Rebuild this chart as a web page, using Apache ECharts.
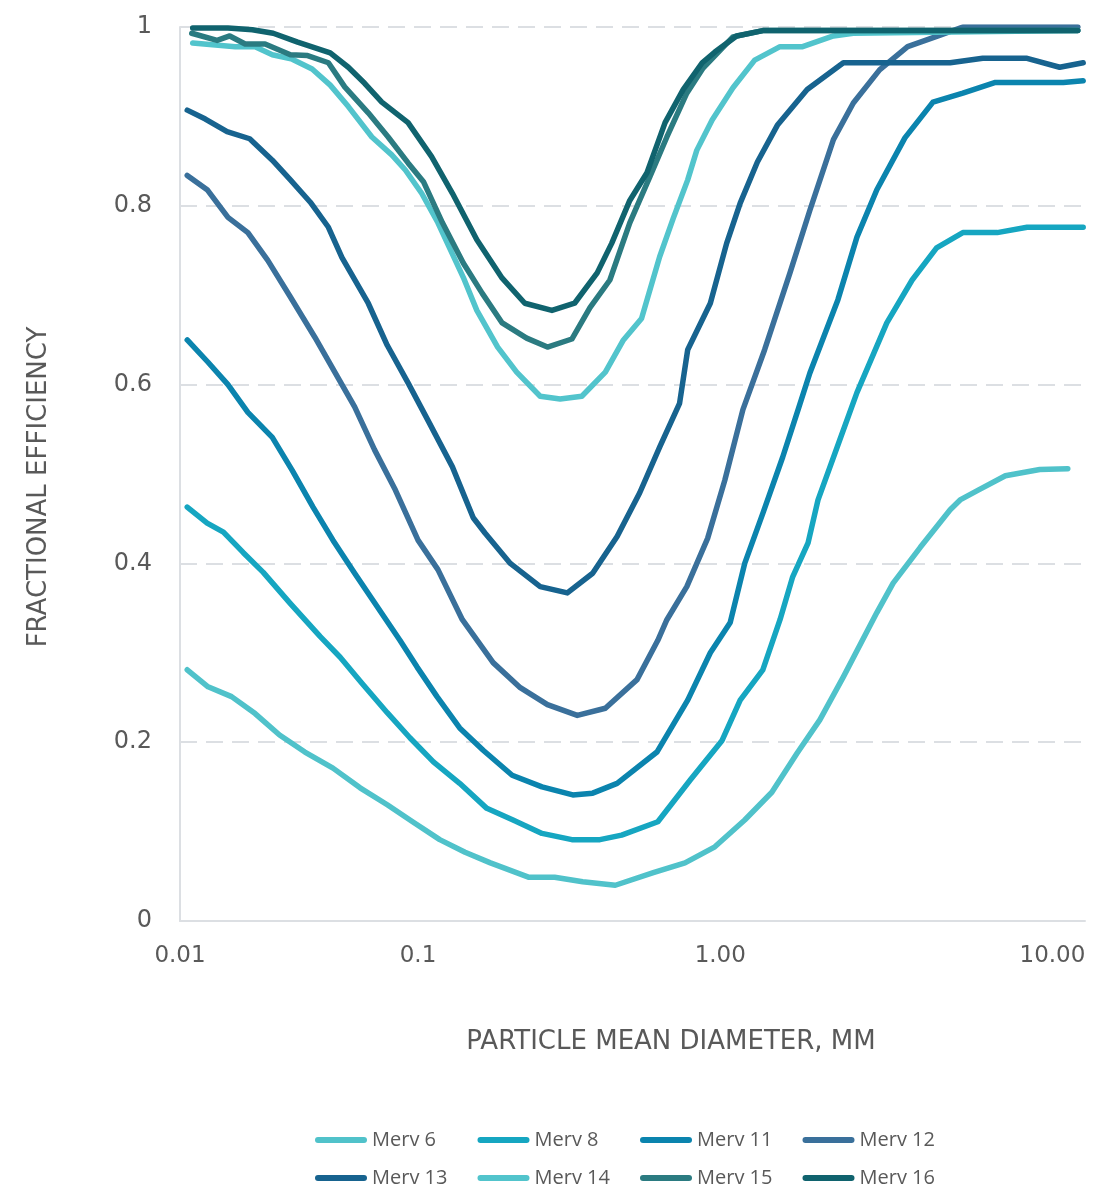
<!DOCTYPE html>
<html>
<head>
<meta charset="utf-8">
<script src="https://cdn.jsdelivr.net/npm/echarts@6/dist/echarts.min.js"></script>
<style>
  html, body { margin: 0; padding: 0; background: #fff; }
  #chart { width: 1118px; height: 1189px; }
</style>
</head>
<body>
<div id="chart"></div>
<script>
// x is position along the (non-uniform) diameter axis, 0..100; y is fractional efficiency
const tickPos = [0, 26.3, 59.7, 96.4];
const tickLabels = ["0.01", "0.1", "1.00", "10.00"];

const seriesNames = ["Merv 6", "Merv 8", "Merv 11", "Merv 12", "Merv 13", "Merv 14", "Merv 15", "Merv 16"];
const seriesColors = ["#50c2ca", "#16a6c1", "#0b84ae", "#3a709b", "#17638f", "#52c4cc", "#2b7b81", "#10636e"];

const merv6 = [[0.8,0.281],[3.1,0.262],[5.7,0.251],[8.3,0.232],[11.0,0.208],[13.8,0.189],[16.9,0.171],[19.9,0.149],[22.9,0.130],[25.7,0.111],[28.7,0.091],[31.5,0.077],[34.3,0.065],[38.5,0.049],[41.4,0.049],[44.5,0.044],[48.1,0.040],[52.3,0.054],[55.8,0.065],[59.1,0.083],[62.4,0.113],[65.4,0.144],[68.2,0.188],[70.7,0.225],[73.3,0.273],[77.0,0.345],[78.8,0.378],[81.8,0.418],[85.1,0.460],[86.2,0.471],[88.2,0.482],[91.2,0.498],[95.0,0.505],[98.1,0.506]];
const merv8 = [[0.8,0.463],[3.0,0.445],[4.8,0.435],[7.0,0.412],[9.2,0.390],[12.2,0.355],[15.5,0.318],[17.7,0.295],[20.1,0.266],[22.9,0.233],[25.4,0.205],[28.0,0.178],[30.9,0.154],[33.9,0.126],[36.8,0.113],[40.0,0.098],[43.3,0.091],[46.4,0.091],[48.8,0.096],[52.8,0.111],[56.4,0.158],[59.9,0.202],[61.9,0.247],[64.4,0.281],[66.3,0.337],[67.7,0.385],[69.4,0.423],[70.5,0.471],[72.9,0.538],[74.8,0.591],[78.1,0.669],[80.9,0.717],[83.6,0.753],[86.5,0.770],[90.3,0.770],[93.6,0.776],[99.8,0.776]];
const merv11 = [[0.8,0.650],[3.1,0.625],[5.3,0.600],[7.5,0.569],[10.2,0.541],[12.4,0.504],[14.7,0.463],[16.9,0.426],[19.3,0.389],[21.5,0.356],[24.3,0.314],[26.2,0.284],[28.4,0.251],[30.9,0.216],[33.5,0.191],[36.7,0.163],[40.0,0.150],[43.4,0.141],[45.6,0.143],[48.3,0.154],[52.7,0.189],[56.1,0.247],[58.6,0.300],[60.8,0.334],[62.4,0.400],[64.4,0.456],[66.6,0.519],[68.3,0.572],[69.6,0.613],[72.7,0.695],[74.8,0.765],[77.0,0.818],[80.1,0.876],[83.2,0.916],[86.5,0.926],[90.1,0.938],[97.6,0.938],[99.8,0.940]];
const merv12 = [[0.8,0.834],[3.0,0.818],[5.3,0.787],[7.5,0.770],[9.7,0.739],[12.2,0.698],[14.9,0.653],[17.5,0.607],[19.3,0.575],[21.5,0.527],[23.8,0.482],[26.3,0.426],[28.5,0.393],[31.2,0.337],[34.6,0.289],[37.6,0.261],[40.6,0.242],[43.9,0.230],[47.0,0.238],[50.5,0.270],[52.8,0.314],[53.8,0.337],[56.0,0.374],[58.3,0.428],[60.2,0.493],[62.2,0.572],[64.6,0.639],[67.4,0.725],[69.6,0.795],[72.2,0.874],[74.4,0.915],[77.3,0.952],[80.4,0.978],[84.0,0.991],[86.5,1.0],[95.4,1.0],[99.2,1.0]];
const merv13 = [[0.8,0.907],[2.8,0.897],[5.2,0.883],[7.7,0.875],[10.2,0.851],[12.2,0.829],[14.4,0.804],[16.4,0.776],[17.9,0.742],[20.8,0.691],[22.9,0.644],[25.2,0.602],[27.4,0.560],[30.1,0.508],[32.4,0.451],[33.7,0.434],[36.5,0.400],[39.8,0.374],[42.8,0.367],[45.6,0.389],[48.3,0.430],[50.8,0.479],[53.0,0.530],[55.2,0.579],[56.1,0.639],[58.6,0.691],[60.4,0.758],[61.9,0.803],[63.8,0.849],[66.0,0.890],[69.3,0.930],[73.3,0.960],[85.1,0.960],[88.7,0.965],[93.6,0.965],[97.2,0.955],[99.8,0.960]];
const merv14 = [[1.4,0.982],[6.1,0.978],[8.3,0.978],[10.2,0.969],[12.4,0.964],[14.6,0.953],[16.6,0.935],[18.6,0.911],[21.2,0.877],[23.4,0.857],[24.9,0.840],[26.7,0.814],[28.5,0.781],[31.3,0.720],[32.8,0.683],[35.1,0.642],[37.2,0.614],[39.8,0.587],[42.0,0.584],[44.4,0.587],[47.0,0.614],[49.0,0.650],[51.0,0.674],[53.0,0.743],[54.5,0.786],[56.1,0.829],[57.1,0.862],[58.8,0.896],[61.1,0.932],[63.5,0.963],[66.3,0.978],[68.8,0.978],[72.2,0.990],[74.4,0.993],[99.2,0.996]];
const merv15 = [[1.3,0.993],[4.1,0.985],[5.5,0.990],[7.2,0.981],[9.4,0.981],[12.2,0.969],[14.1,0.968],[16.4,0.960],[18.2,0.933],[20.8,0.904],[23.0,0.877],[25.2,0.848],[26.9,0.827],[29.0,0.781],[31.3,0.736],[33.4,0.702],[35.6,0.669],[38.3,0.652],[40.6,0.642],[43.3,0.651],[45.3,0.686],[47.5,0.717],[49.7,0.781],[51.9,0.832],[53.8,0.877],[56.0,0.926],[57.8,0.954],[61.1,0.989],[64.4,0.996],[99.2,0.996]];
const merv16 = [[1.4,0.999],[5.3,0.999],[8.0,0.997],[10.3,0.993],[13.0,0.983],[16.6,0.971],[18.6,0.955],[20.4,0.937],[22.3,0.916],[25.2,0.893],[27.8,0.855],[30.1,0.814],[32.8,0.762],[35.6,0.719],[38.1,0.691],[41.1,0.683],[43.6,0.691],[46.1,0.725],[47.7,0.758],[49.7,0.806],[51.6,0.837],[53.6,0.893],[55.6,0.930],[57.7,0.960],[59.1,0.972],[61.5,0.990],[64.4,0.996],[99.2,0.996]];

const allData = [merv6, merv8, merv11, merv12, merv13, merv14, merv15, merv16];

const chart = echarts.init(document.getElementById("chart"));
const titleFont = "DejaVu Sans";
const labelFont = "DejaVu Sans";
const legendFont = "Open Sans";
const textColor = "#595959";
const gridColor = "#dcdfe3";
// rounded bar used as legend marker
const capsule = "path://M3,0 L49,0 A3,3 0 0 1 49,6 L3,6 A3,3 0 0 1 3,0 Z";

// one legend per item so the four columns line up
const legends = seriesNames.map((name, i) => ({
  data: [{ name: name, icon: capsule }],
  left: 310 + (i % 4) * 162.5,
  top: i < 4 ? 1125 : 1163,
  itemWidth: 52,
  itemHeight: 6,
  textStyle: { fontFamily: legendFont, fontSize: 20, color: textColor }
}));

const option = {
  animation: false,
  color: seriesColors,
  grid: { left: 180, right: 33, top: 27, bottom: 268, containLabel: false },
  legend: legends,
  xAxis: {
    type: "value",
    min: 0, max: 100,
    name: "PARTICLE MEAN DIAMETER, MM",
    nameLocation: "middle",
    nameGap: 108,
    nameTextStyle: { fontFamily: titleFont, fontSize: 26, color: textColor, padding: [0, 0, 0, 77] },
    axisLine: { show: true, lineStyle: { color: gridColor, width: 2 } },
    axisTick: { show: false },
    splitLine: { show: false },
    axisLabel: {
      customValues: tickPos,
      margin: 24,
      fontFamily: labelFont, fontSize: 23, color: textColor,
      formatter: (v) => {
        const i = tickPos.findIndex((p) => Math.abs(p - v) < 0.01);
        return i >= 0 ? tickLabels[i] : "";
      }
    }
  },
  yAxis: {
    type: "value",
    min: 0, max: 1, interval: 0.2,
    name: "FRACTIONAL EFFICIENCY",
    nameLocation: "middle",
    nameGap: 128,
    nameTextStyle: { fontFamily: titleFont, fontSize: 26, color: textColor, padding: [0, 26, 0, 0] },
    axisLine: { show: true, lineStyle: { color: gridColor, width: 2 } },
    axisTick: { show: false },
    axisLabel: { margin: 28, fontFamily: labelFont, fontSize: 24, color: textColor },
    splitLine: { show: true, lineStyle: { color: gridColor, width: 2, type: [17, 9] } }
  },
  series: seriesNames.map((name, i) => ({
    name: name,
    type: "line",
    data: allData[i],
    symbol: "none",
    lineStyle: { width: 5.5, cap: "round", join: "round" }
  }))
};

chart.setOption(option);
</script>
</body>
</html>
